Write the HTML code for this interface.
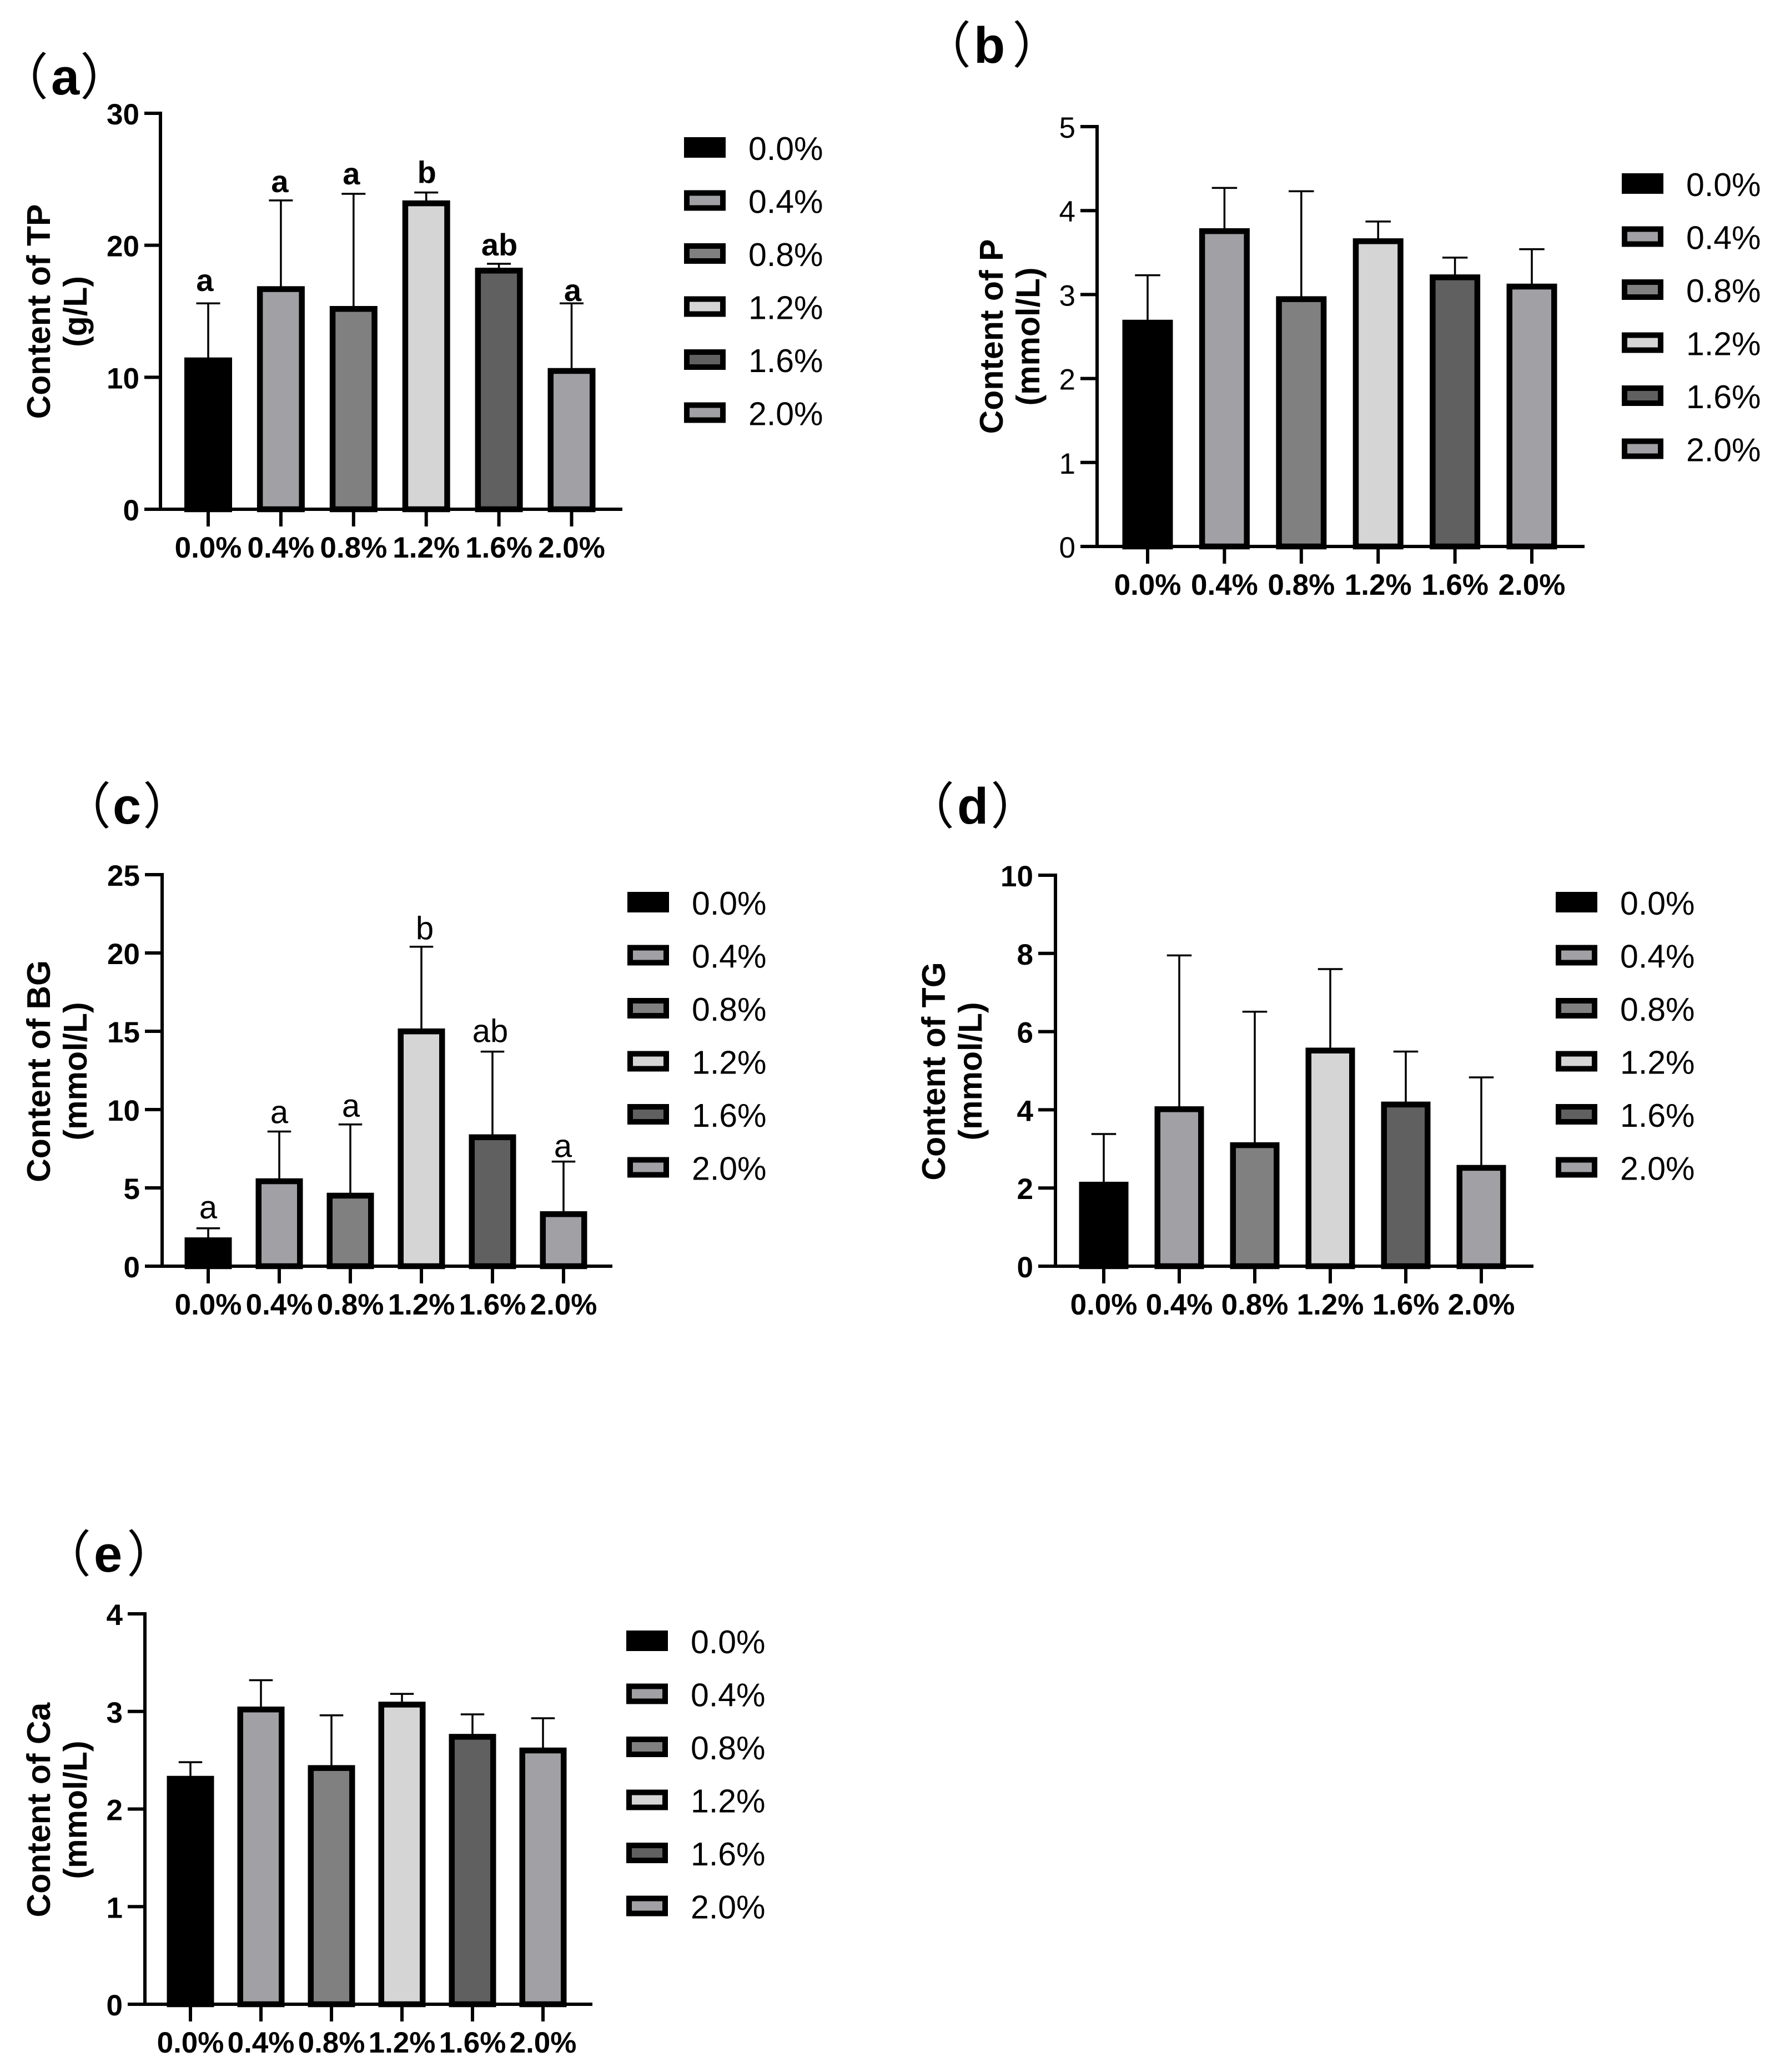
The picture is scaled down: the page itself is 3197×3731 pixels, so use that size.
<!DOCTYPE html>
<html lang="en">
<head>
<meta charset="utf-8">
<title>Serum biochemistry bar charts</title>
<style>
html,body{margin:0;padding:0;background:#fff;}
svg{display:block;}
text{font-family:"Liberation Sans","Noto Sans CJK SC",sans-serif;fill:#000;}
.pt{font-size:90px;}
.pp{font-family:"Noto Sans CJK SC","Liberation Sans",sans-serif;font-weight:400;}
.pl{font-family:"Liberation Sans",sans-serif;font-weight:700;font-size:92px;}
.yt{font-size:59px;font-weight:700;text-anchor:middle;}
</style>
</head>
<body>
<svg id="fig" xmlns="http://www.w3.org/2000/svg" width="3197" height="3731" viewBox="0 0 3197 3731">
<rect x="0" y="0" width="3197" height="3731" fill="#fff"/>

<g id="panel-a">
<text class="pt" x="-3" y="170"><tspan class="pp">（</tspan><tspan class="pl" dx="5">a</tspan><tspan class="pp" dx="1">）</tspan></text>
<text class="yt" transform="translate(90,561) rotate(-90)">Content of TP</text>
<text class="yt" transform="translate(156,561) rotate(-90)">(g/L)</text>
</g>

<g id="panel-b">
<text class="pt" x="1659" y="113"><tspan class="pp">（</tspan><tspan class="pl" dx="5">b</tspan><tspan class="pp" dx="13">）</tspan></text>
<text class="yt" transform="translate(1806,606) rotate(-90)">Content of P</text>
<text class="yt" transform="translate(1872,606) rotate(-90)">(mmol/L)</text>
</g>

<g id="panel-c">
<text class="pt" x="110" y="1483"><tspan class="pp">（</tspan><tspan class="pl" dx="3">c</tspan><tspan class="pp" dx="3">）</tspan></text>
<text class="yt" transform="translate(90,1929) rotate(-90)">Content of BG</text>
<text class="yt" transform="translate(156,1929) rotate(-90)">(mmol/L)</text>
</g>

<g id="panel-d">
<text class="pt" x="1629" y="1483"><tspan class="pp">（</tspan><tspan class="pl" dx="5">d</tspan><tspan class="pp" dx="4">）</tspan></text>
<text class="yt" transform="translate(1702,1929) rotate(-90)">Content of TG</text>
<text class="yt" transform="translate(1768,1929) rotate(-90)">(mmol/L)</text>
</g>

<g id="panel-e">
<text class="pt" x="74" y="2830"><tspan class="pp">（</tspan><tspan class="pl" dx="5">e</tspan><tspan class="pp" dx="8">）</tspan></text>
<text class="yt" transform="translate(90,3259) rotate(-90)">Content of Ca</text>
<text class="yt" transform="translate(156,3259) rotate(-90)">(mmol/L)</text>
</g>
</svg>

<script>
// ---- data ----
const categories = ['0.0%', '0.4%', '0.8%', '1.2%', '1.6%', '2.0%'];

const tpMeans = [11.5, 16.9, 15.4, 23.4, 18.3, 10.7];
const tpErrorTops = [15.6, 23.4, 23.9, 24.0, 18.6, 15.6];
const tpLetters = ['a', 'a', 'a', 'b', 'ab', 'a'];
const tpTicks = [0, 10, 20, 30];

const pMeans = [2.70, 3.79, 2.98, 3.67, 3.24, 3.13];
const pErrorTops = [3.23, 4.27, 4.23, 3.87, 3.44, 3.54];
const pTicks = [0, 1, 2, 3, 4, 5];

const bgMeans = [1.84, 5.61, 4.69, 15.18, 8.42, 3.51];
const bgErrorTops = [2.42, 8.6, 9.05, 20.4, 13.7, 6.68];
const bgLetters = ['a', 'a', 'a', 'b', 'ab', 'a'];
const bgTicks = [0, 5, 10, 15, 20, 25];

const tgMeans = [2.16, 4.09, 3.17, 5.59, 4.21, 2.59];
const tgErrorTops = [3.38, 7.95, 6.51, 7.6, 5.49, 4.83];
const tgTicks = [0, 2, 4, 6, 8, 10];

const caMeans = [2.34, 3.05, 2.45, 3.10, 2.77, 2.63];
const caErrorTops = [2.48, 3.32, 2.96, 3.18, 2.97, 2.93];
const caTicks = [0, 1, 2, 3, 4];

// ---- styling ----
const barFills = ['#000000', '#a0a0a5', '#808080', '#d5d5d5', '#606060', '#a0a0a5'];
const SVG_NS = 'http://www.w3.org/2000/svg';

function mk(parent, tag, attrs, content) {
  const el = document.createElementNS(SVG_NS, tag);
  for (const k in attrs) el.setAttribute(k, attrs[k]);
  if (content !== undefined) el.textContent = content;
  parent.appendChild(el);
  return el;
}

function drawChart(id, layout, means, errorTops, ticks, letters) {
  const host = document.getElementById(id);
  const maxTick = ticks[ticks.length - 1];
  const yScale = v => layout.bottom - (v / maxTick) * (layout.bottom - layout.top);
  const xScale = i => layout.first + i * layout.step;
  const axisW = 6, border = 10.5, tickFont = 53;
  const labelWeight = layout.tickWeight;

  // bars and error bars
  means.forEach((m, i) => {
    const cx = xScale(i), yTopBar = yScale(m), yErr = yScale(errorTops[i]);
    const stem = mk(host, 'line', {x1: cx, x2: cx, y1: yTopBar + 2, y2: yErr, stroke: '#000', 'stroke-width': 3.5});
    
    
    const cap = mk(host, 'line', {x1: cx - layout.barW * 0.25, x2: cx + layout.barW * 0.25, y1: yErr, y2: yErr, stroke: '#000', 'stroke-width': 3.5});
    
    
    const bar = mk(host, 'rect', {
      x: cx - layout.barW / 2 + border / 2,
      y: yTopBar + border / 2,
      width: layout.barW - border,
      height: Math.max(0, layout.bottom - yTopBar - border / 2),
      fill: barFills[i], stroke: '#000', 'stroke-width': border
    });
    
    
    if (letters) {
      const lab = mk(host, 'text', {
        x: cx + layout.letterDx[i], y: yErr - layout.letterGap[i], 'text-anchor': 'middle',
        'font-size': layout.letterSize, 'font-weight': layout.letterWeight
      }, letters[i]);
      
      
    }
  });

  // y axis
  const yAxis = mk(host, 'line', {x1: layout.axisX, x2: layout.axisX, y1: layout.top - axisW / 2, y2: layout.bottom + axisW / 2, stroke: '#000', 'stroke-width': axisW});
  
  
  ticks.forEach(t => {
    const y = yScale(t);
    const tk = mk(host, 'line', {x1: layout.xStart, x2: layout.axisX, y1: y, y2: y, stroke: '#000', 'stroke-width': axisW});
    
    
    const tl = mk(host, 'text', {x: layout.xStart - 9, y: y + 20, 'text-anchor': 'end', 'font-size': tickFont, 'font-weight': labelWeight}, String(t));
    
    
  });

  // x axis
  const xAxis = mk(host, 'line', {x1: layout.xStart, x2: layout.xEnd, y1: layout.bottom, y2: layout.bottom, stroke: '#000', 'stroke-width': axisW});
  
  
  categories.forEach((c, i) => {
    const cx = xScale(i);
    const tk = mk(host, 'line', {x1: cx, x2: cx, y1: layout.bottom, y2: layout.bottom + 31, stroke: '#000', 'stroke-width': axisW});
    
    
    const tl = mk(host, 'text', {x: cx, y: layout.bottom + 87, 'text-anchor': 'middle', 'font-size': tickFont, 'font-weight': 700}, c);
    
    
  });

  // legend
  categories.forEach((c, i) => {
    const y = layout.legY + i * 95.5;
    const sw = mk(host, 'rect', {x: layout.legX + 5, y: y + 5, width: 65, height: 27, fill: barFills[i], stroke: '#000', 'stroke-width': 10});
    
    
    const lt = mk(host, 'text', {x: layout.legX + 116, y: y + 41, 'font-size': 59}, c);
    
    
  });
}

drawChart('panel-a',
  {axisX: 289, top: 204, bottom: 917, xStart: 260, xEnd: 1121, first: 375, step: 130.9, barW: 86,
   legX: 1232, legY: 247, tickWeight: 700, letterSize: 56, letterWeight: 700,
   letterDx: [-6, -2, -4, 1, 1, 2], letterGap: [22, 15, 17, 17, 15, 4]},
  tpMeans, tpErrorTops, tpTicks, tpLetters);

drawChart('panel-b',
  {axisX: 1976, top: 228, bottom: 984, xStart: 1946, xEnd: 2854, first: 2067, step: 138.4, barW: 91,
   legX: 2921, legY: 312, tickWeight: 400},
  pMeans, pErrorTops, pTicks, null);

drawChart('panel-c',
  {axisX: 292, top: 1575, bottom: 2280, xStart: 261, xEnd: 1103, first: 375, step: 128, barW: 85,
   legX: 1130, legY: 1606, tickWeight: 700, letterSize: 58, letterWeight: 400,
   letterDx: [0, 0, 1, 6, -4, -1], letterGap: [18, 15, 14, 13, 17, 8]},
  bgMeans, bgErrorTops, bgTicks, bgLetters);

drawChart('panel-d',
  {axisX: 1901, top: 1576, bottom: 2280, xStart: 1870, xEnd: 2762, first: 1988, step: 136, barW: 89,
   legX: 2802, legY: 1606, tickWeight: 700},
  tgMeans, tgErrorTops, tgTicks, null);

drawChart('panel-e',
  {axisX: 261, top: 2906, bottom: 3609, xStart: 230, xEnd: 1067, first: 343, step: 127, barW: 85,
   legX: 1128, legY: 2936, tickWeight: 700},
  caMeans, caErrorTops, caTicks, null);
</script>
</body>
</html>
